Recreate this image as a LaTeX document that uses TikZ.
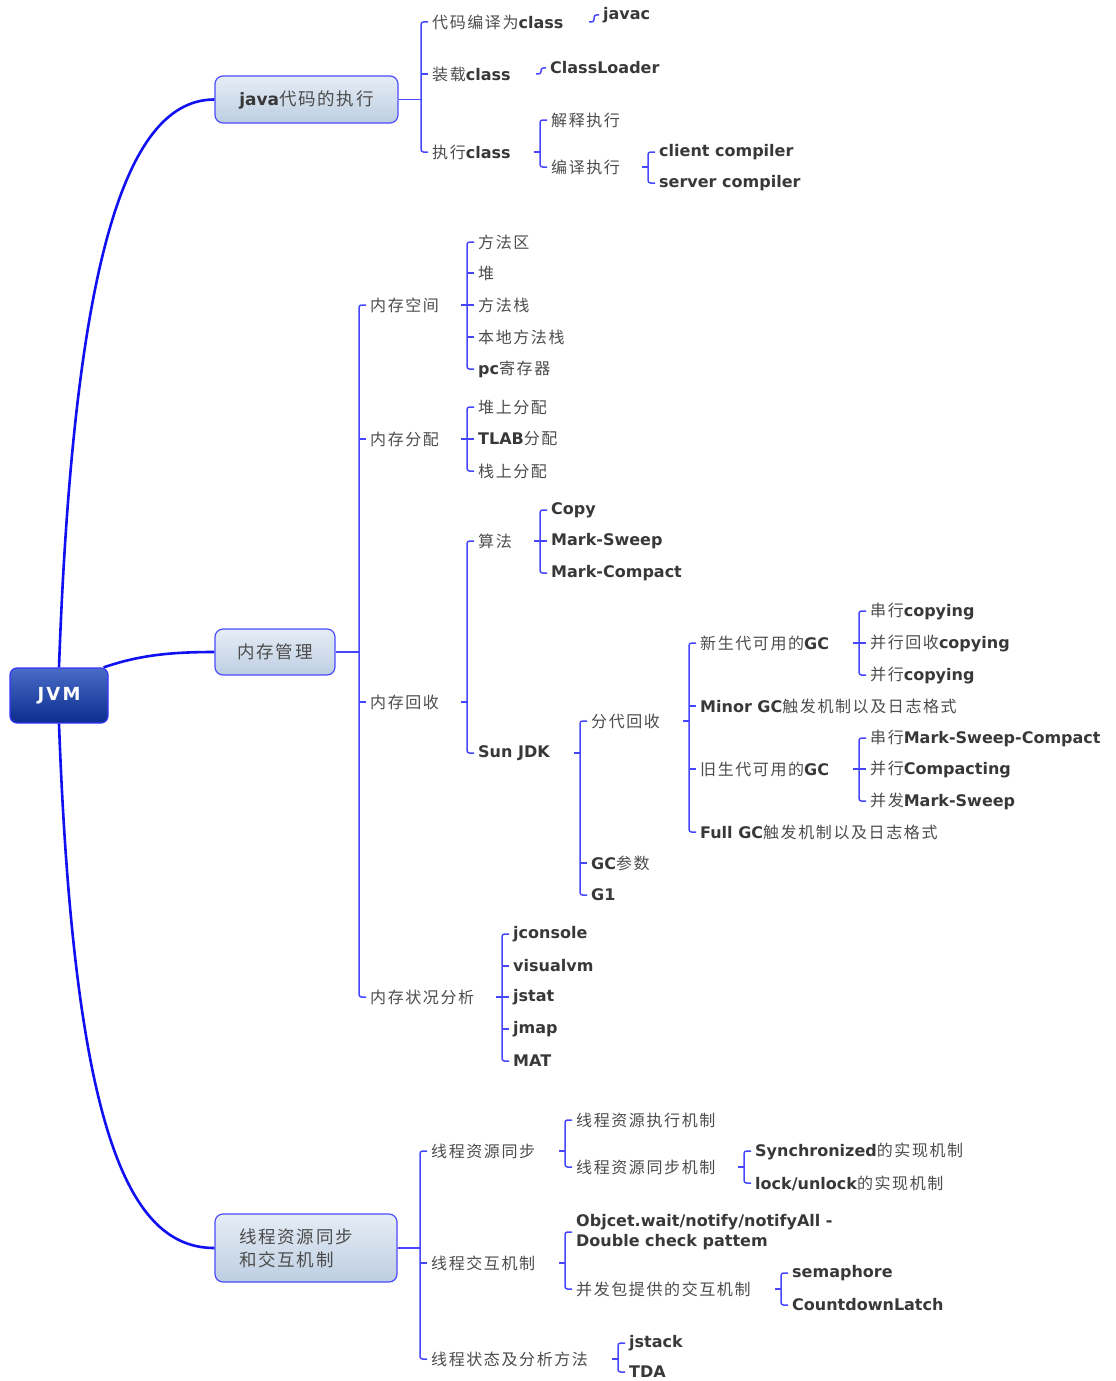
\documentclass[tikz,border=0pt]{standalone}
\usepackage{fontspec}
\setmainfont{DejaVu Sans}
\newfontfamily\cjk{Noto Sans CJK SC}[LetterSpace=10]

\definecolor{trunkblue}{HTML}{1010F0}
\definecolor{brkblue}{HTML}{4646FF}
\definecolor{boxline}{HTML}{4B4BFF}
\definecolor{boxtop}{HTML}{E6EDF5}
\definecolor{boxbot}{HTML}{BDCEE2}
\definecolor{roottop}{HTML}{4A6CC8}
\definecolor{rootbot}{HTML}{0A2C8C}
\definecolor{rootline}{HTML}{3535FF}
\definecolor{engray}{HTML}{383838}
\definecolor{zhgray}{HTML}{4C4C4C}

\newcommand{\zh}[1]{{\cjk\color{zhgray}\fontsize{16}{20}\selectfont#1}}
\newcommand{\en}[1]{{\bfseries\color{engray}#1}}

\tikzset{
    leaf/.style={anchor=west, inner xsep=4pt, inner ysep=2pt, font=\fontsize{16}{20}\selectfont},
    brk/.style={draw=brkblue, line width=1.5pt, rounded corners=2.5pt},
    trunk/.style={draw=trunkblue, line width=2.6pt},
    topbox/.style={draw=boxline, line width=1.2pt, rounded corners=8pt, top color=boxtop, bottom color=boxbot, font=\fontsize{17}{23}\selectfont},
    rootbox/.style={draw=rootline, line width=1.2pt, rounded corners=7pt, top color=roottop, bottom color=rootbot, text=white, minimum width=98pt, minimum height=55pt, font=\bfseries\fontsize{18}{22}\selectfont}
}
\newcommand{\zhbig}[1]{{\cjk\color{zhgray}\fontsize{17.5}{23}\selectfont#1}}

\begin{document}
\begin{tikzpicture}[x=1pt, y=-1pt]
    \useasboundingbox (0,0) rectangle (1116,1381);

    % root
    \node[rootbox] (jvm) at (59,695.5) {\addfontfeatures{LetterSpace=12}JVM};

    % java code
    \node[topbox, minimum width=183pt, minimum height=47pt] (java) at (306.5,99.5) {\en{java}\zhbig{代码的执行}};
    \node[leaf] (compile) at (428,22) {\zh{代码编译为}\en{class}};
    \node[leaf] (load) at (428,74) {\zh{装载}\en{class}};
    \node[leaf] (run) at (428,152) {\zh{执行}\en{class}};
    \node[leaf] (javac) at (599,15) {\en{javac}};
    \node[leaf] (loader) at (546,68) {\en{ClassLoader}};
    \node[leaf] (interp) at (547,120) {\zh{解释执行}};
    \node[leaf] (jit) at (547,167) {\zh{编译执行}};
    \node[leaf] (client) at (655,152) {\en{client compiler}};
    \node[leaf] (server) at (655,183) {\en{server compiler}};

    % memory
    \node[topbox, minimum width=120pt, minimum height=46pt] (mem) at (275,652) {\zhbig{内存管理}};
    \node[leaf] (space) at (366,305) {\zh{内存空间}};
    \node[leaf] (alloc) at (366,439) {\zh{内存分配}};
    \node[leaf] (gc) at (366,702) {\zh{内存回收}};
    \node[leaf] (mon) at (366,997) {\zh{内存状况分析}};
    \node[leaf] (area) at (474,242) {\zh{方法区}};
    \node[leaf] (heap) at (474,273) {\zh{堆}};
    \node[leaf] (vmstack) at (474,305) {\zh{方法栈}};
    \node[leaf] (nstack) at (474,337) {\zh{本地方法栈}};
    \node[leaf] (pc) at (474,369) {\en{pc}\zh{寄存器}};
    \node[leaf] (onheap) at (474,407) {\zh{堆上分配}};
    \node[leaf] (tlab) at (474,439) {\en{TLAB}\zh{分配}};
    \node[leaf] (onstack) at (474,471) {\zh{栈上分配}};
    \node[leaf] (algo) at (474,541) {\zh{算法}};
    \node[leaf] (sunjdk) at (474,753) {\en{Sun JDK}};
    \node[leaf] (copy) at (547,510) {\en{Copy}};
    \node[leaf] (ms) at (547,541) {\en{Mark-Sweep}};
    \node[leaf] (mc) at (547,573) {\en{Mark-Compact}};
    \node[leaf] (gen) at (587,721) {\zh{分代回收}};
    \node[leaf] (gcopt) at (587,863) {\en{GC}\zh{参数}};
    \node[leaf] (gone) at (587,895) {\en{G1}};
    \node[leaf] (young) at (696,643) {\zh{新生代可用的}\en{GC}};
    \node[leaf] (minor) at (696,706) {\en{Minor GC}\zh{触发机制以及日志格式}};
    \node[leaf] (old) at (696,769) {\zh{旧生代可用的}\en{GC}};
    \node[leaf] (full) at (696,832) {\en{Full GC}\zh{触发机制以及日志格式}};
    \node[leaf] (ysc) at (866,611) {\zh{串行}\en{copying}};
    \node[leaf] (ypn) at (866,643) {\zh{并行回收}\en{copying}};
    \node[leaf] (ypc) at (866,675) {\zh{并行}\en{copying}};
    \node[leaf] (osc) at (866,738) {\zh{串行}\en{Mark-Sweep-Compact}};
    \node[leaf] (opc) at (866,769) {\zh{并行}\en{Compacting}};
    \node[leaf] (ocms) at (866,801) {\zh{并发}\en{Mark-Sweep}};
    \node[leaf] (jconsole) at (509,934) {\en{jconsole}};
    \node[leaf] (visualvm) at (509,966) {\en{visualvm}};
    \node[leaf] (jstat) at (509,997) {\en{jstat}};
    \node[leaf] (jmap) at (509,1029) {\en{jmap}};
    \node[leaf] (mat) at (509,1061) {\en{MAT}};

    % threads
    \node[topbox, minimum width=182pt, minimum height=68pt, text width=134pt, align=left] (thr) at (306,1248) {\zhbig{线程资源同步}\\\zhbig{和交互机制}};
    \node[leaf] (sync) at (427,1151) {\zh{线程资源同步}};
    \node[leaf] (inter) at (427,1263) {\zh{线程交互机制}};
    \node[leaf] (state) at (427,1359) {\zh{线程状态及分析方法}};
    \node[leaf] (exec) at (572,1120) {\zh{线程资源执行机制}};
    \node[leaf] (syncm) at (572,1167) {\zh{线程资源同步机制}};
    \node[leaf] (syn) at (751,1151) {\en{Synchronized}\zh{的实现机制}};
    \node[leaf] (lock) at (751,1183) {\en{lock/unlock}\zh{的实现机制}};
    \node[leaf, align=left] (wait) at (572,1232) {\en{Objcet.wait/notify/notifyAll -}\\\en{Double check pattem}};
    \node[leaf] (juc) at (572,1289) {\zh{并发包提供的交互机制}};
    \node[leaf] (sema) at (788,1273) {\en{semaphore}};
    \node[leaf] (latch) at (788,1305) {\en{CountdownLatch}};
    \node[leaf] (jstack) at (625,1343) {\en{jstack}};
    \node[leaf] (tda) at (625,1372) {\en{TDA}};

    % trunks
    \draw[trunk] (jvm.north) .. controls +(15,-420) and +(-85,0) .. (java.west);
    \draw[trunk] ([xshift=-5pt]jvm.north east) .. controls +(35,-12) and +(-45,0) .. (mem.west);
    \draw[trunk] (jvm.south) .. controls +(15,410) and +(-85,0) .. (thr.west);

    % brackets, java
    \draw[brk] (compile.west) -- ++(-7,0) coordinate (bjava) |- (run.west);
    \draw[brk] (load.west) -- ++(-7,0);
    \draw[brk] (java.east) -- (bjava |- java.east);
    \draw[brk] (javac.west) -- ++(-5,0) coordinate (bjavac) -- (bjavac |- compile.east) -- ++(-5,0);
    \draw[brk] (loader.west) -- ++(-5,0) coordinate (bloader) -- (bloader |- load.east) -- ++(-5,0);
    \draw[brk] (interp.west) -- ++(-7,0) coordinate (brun) |- (jit.west);
    \draw[brk] (brun |- run.east) -- ++(-6,0);
    \draw[brk] (client.west) -- ++(-7,0) coordinate (bjit) |- (server.west);
    \draw[brk] (bjit |- jit.east) -- ++(-6,0);

    % brackets, memory
    \draw[brk] (space.west) -- ++(-7,0) coordinate (bmem) |- (mon.west);
    \foreach \n in {alloc,gc} \draw[brk] (\n.west) -- ++(-7,0);
    \draw[brk] (mem.east) -- (bmem |- mem.east);
    \draw[brk] (area.west) -- ++(-7,0) coordinate (bspace) |- (pc.west);
    \foreach \n in {heap,vmstack,nstack} \draw[brk] (\n.west) -- ++(-7,0);
    \draw[brk] (bspace |- space.east) -- ++(-6,0);
    \draw[brk] (onheap.west) -- ++(-7,0) coordinate (balloc) |- (onstack.west);
    \draw[brk] (tlab.west) -- ++(-7,0);
    \draw[brk] (balloc |- alloc.east) -- ++(-6,0);
    \draw[brk] (algo.west) -- ++(-7,0) coordinate (bgc) |- (sunjdk.west);
    \draw[brk] (bgc |- gc.east) -- ++(-6,0);
    \draw[brk] (copy.west) -- ++(-7,0) coordinate (balgo) |- (mc.west);
    \draw[brk] (ms.west) -- ++(-7,0);
    \draw[brk] (balgo |- algo.east) -- ++(-6,0);
    \draw[brk] (gen.west) -- ++(-7,0) coordinate (bsun) |- (gone.west);
    \draw[brk] (gcopt.west) -- ++(-7,0);
    \draw[brk] (bsun |- sunjdk.east) -- ++(-6,0);
    \draw[brk] (young.west) -- ++(-7,0) coordinate (bgen) |- (full.west);
    \foreach \n in {minor,old} \draw[brk] (\n.west) -- ++(-7,0);
    \draw[brk] (bgen |- gen.east) -- ++(-6,0);
    \draw[brk] (ysc.west) -- ++(-7,0) coordinate (byoung) |- (ypc.west);
    \draw[brk] (ypn.west) -- ++(-7,0);
    \draw[brk] (byoung |- young.east) -- ++(-6,0);
    \draw[brk] (osc.west) -- ++(-7,0) coordinate (bold) |- (ocms.west);
    \draw[brk] (opc.west) -- ++(-7,0);
    \draw[brk] (bold |- old.east) -- ++(-6,0);
    \draw[brk] (jconsole.west) -- ++(-7,0) coordinate (bmon) |- (mat.west);
    \foreach \n in {visualvm,jstat,jmap} \draw[brk] (\n.west) -- ++(-7,0);
    \draw[brk] (bmon |- mon.east) -- ++(-6,0);

    % brackets, threads
    \draw[brk] (sync.west) -- ++(-7,0) coordinate (bthr) |- (state.west);
    \draw[brk] (inter.west) -- ++(-7,0);
    \draw[brk] (thr.east) -- (bthr |- thr.east);
    \draw[brk] (exec.west) -- ++(-7,0) coordinate (bsync) |- (syncm.west);
    \draw[brk] (bsync |- sync.east) -- ++(-6,0);
    \draw[brk] (syn.west) -- ++(-7,0) coordinate (bsyncm) |- (lock.west);
    \draw[brk] (bsyncm |- syncm.east) -- ++(-6,0);
    \draw[brk] (wait.west) -- ++(-7,0) coordinate (binter) |- (juc.west);
    \draw[brk] (binter |- inter.east) -- ++(-6,0);
    \draw[brk] (sema.west) -- ++(-7,0) coordinate (bjuc) |- (latch.west);
    \draw[brk] (bjuc |- juc.east) -- ++(-6,0);
    \draw[brk] (jstack.west) -- ++(-7,0) coordinate (bstate) |- (tda.west);
    \draw[brk] (bstate |- state.east) -- ++(-6,0);
\end{tikzpicture}
\end{document}
